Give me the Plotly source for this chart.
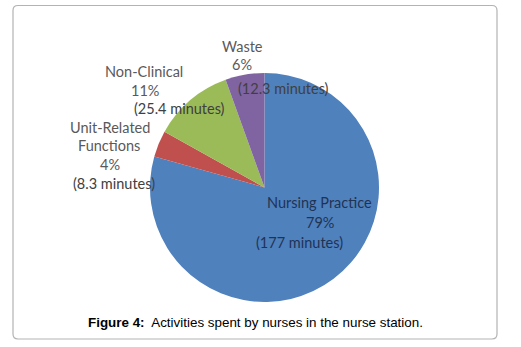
import plotly.graph_objects as go

categories = ["Nursing Practice", "Unit-Related Functions", "Non-Clinical", "Waste"]
minutes = [177, 8.3, 25.4, 12.3]
percents = ["79%", "4%", "11%", "6%"]
colors = ["#4f81bd", "#c0504d", "#9bbb59", "#8064a2"]
caption_bold = "Figure 4:"
caption_text = "Activities spent by nurses in the nurse station."

W, H = 521, 347

fig = go.Figure(go.Pie(
    labels=categories,
    values=minutes,
    sort=False,
    direction="clockwise",
    rotation=0,
    textinfo="none",
    hoverinfo="label+value+percent",
    marker=dict(colors=colors, line=dict(width=0)),
    showlegend=False,
    domain=dict(x=[146 / W, 383 / W], y=[1 - 302 / H, 1 - 73 / H]),
))

def px(x, y):
    return x / W, 1 - y / H

# label lines: (text, x center px, y center px, color)
label_lines = [
    ("Waste", 242, 46, "#595959"),
    (percents[3], 242, 64, "#595959"),
    ("(" + str(minutes[3]) + " minutes)", 283, 88, "#404040"),
    ("Non-Clinical", 144, 72, "#595959"),
    (percents[2], 145, 91, "#595959"),
    ("(" + str(minutes[2]) + " minutes)", 179, 109, "#404040"),
    ("Unit-Related", 110, 127, "#595959"),
    ("Functions", 109, 145, "#595959"),
    (percents[1], 110, 164, "#595959"),
    ("(" + str(minutes[1]) + " minutes)", 114, 183, "#404040"),
    ("Nursing Practice", 319, 202, "#1f3355"),
    (percents[0], 320, 222, "#1f3355"),
    ("(" + str(minutes[0]) + " minutes)", 299, 242, "#1f3355"),
]
for text, x, y, c in label_lines:
    ax, ay = px(x, y)
    fig.add_annotation(x=ax, y=ay, xref="paper", yref="paper", text=text,
                       showarrow=False, xanchor="center", yanchor="middle",
                       font=dict(family="Lato", size=14.5, color=c))

cx, cy = px(255, 322)
fig.add_annotation(x=cx, y=cy, xref="paper", yref="paper",
                   text="<b>" + caption_bold + "</b>  " + caption_text,
                   showarrow=False, xanchor="center", yanchor="middle",
                   font=dict(family="Liberation Sans, Arial", size=13.4, color="#000000"))

# rounded border
x0, x1, y0, y1, r = 13, 497, 5.5, 339, 5
def P(x, y):
    a, b = px(x, y)
    return f"{a:.5f},{b:.5f}"
path = (f"M {P(x0+r,y0)} L {P(x1-r,y0)} Q {P(x1,y0)} {P(x1,y0+r)} "
        f"L {P(x1,y1-r)} Q {P(x1,y1)} {P(x1-r,y1)} "
        f"L {P(x0+r,y1)} Q {P(x0,y1)} {P(x0,y1-r)} "
        f"L {P(x0,y0+r)} Q {P(x0,y0)} {P(x0+r,y0)} Z")
fig.add_shape(type="path", path=path, xref="paper", yref="paper",
              line=dict(color="#b3b3b3", width=1.2), fillcolor="rgba(0,0,0,0)")

fig.update_layout(width=W, height=H, margin=dict(l=0, r=0, t=0, b=0),
                  paper_bgcolor="white", plot_bgcolor="white")

fig.write_html("out.html", config={"displayModeBar": False},
               post_script="document.body.style.margin='0px';document.body.style.overflow='hidden';")
